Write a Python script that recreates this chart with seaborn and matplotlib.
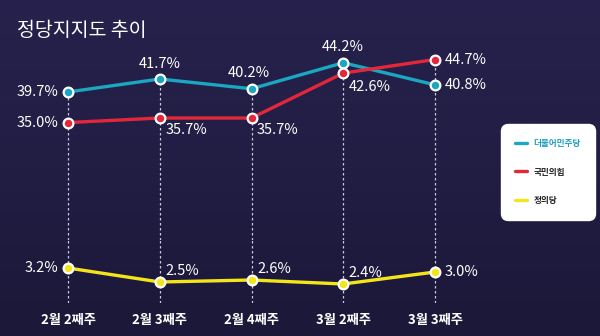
import numpy as np
import pandas as pd
import matplotlib
matplotlib.use("Agg")
import matplotlib.pyplot as plt
import seaborn as sns
from matplotlib.lines import Line2D
from matplotlib.colors import LinearSegmentedColormap

weeks = ["2월 2째주", "2월 3째주", "2월 4째주", "3월 2째주", "3월 3째주"]
minjoo = [39.7, 41.7, 40.2, 44.2, 40.8]
ppp = [35.0, 35.7, 35.7, 42.6, 44.7]
justice = [3.2, 2.5, 2.6, 2.4, 3.0]
party_names = ["더불어민주당", "국민의힘", "정의당"]
title = "정당지지도 추이"

sns.set_style("dark")
plt.rcParams['font.family'] = ['Noto Sans CJK KR', 'DejaVu Sans']

C_BLUE = "#1ba6c2"
C_RED = "#e2273a"
C_YEL = "#f4e51a"
BG_TOP = "#27224d"
BG_BOT = "#1c1839"

W, H = 600, 336
fig = plt.figure(figsize=(6, 3.36), dpi=100)

# background gradient
bg = fig.add_axes([0, 0, 1, 1])
grad = np.linspace(0, 1, 256).reshape(-1, 1)
cmap = LinearSegmentedColormap.from_list("bg", [BG_TOP, BG_BOT])
bg.imshow(grad, aspect="auto", cmap=cmap, extent=[0, 1, 0, 1])
bg.set_axis_off()

def px_axes(x0, y0, x1, y1):
    return fig.add_axes([x0 / W, 1 - y1 / H, (x1 - x0) / W, (y1 - y0) / H])

xlim = (-(68 - 20) / 91.75, 4 + (480 - 435) / 91.75)
ax_top = px_axes(20, 40, 480, 240)
ax_bot = px_axes(20, 240, 480, 303)
for a in (ax_top, ax_bot):
    a.set_facecolor("none")
    for s in a.spines.values():
        s.set_visible(False)
    a.grid(False)

ax_top.set_ylim(39.7 - 148 / 6.5, 39.7 + 52 / 6.5)
ax_bot.set_ylim(3.2 - 35 / 20, 3.2 + 28 / 20)

xs = list(range(len(weeks)))
df_top = pd.DataFrame({"x": xs * 2, "v": minjoo + ppp,
                       "party": [party_names[0]] * 5 + [party_names[1]] * 5})
df_bot = pd.DataFrame({"x": xs, "v": justice, "party": [party_names[2]] * 5})

# dashed guide lines
tops = [max(a, b) for a, b in zip(minjoo, ppp)]
ax_top.vlines(xs, ax_top.get_ylim()[0], tops, colors="#c8c8d8",
              linestyles=(0, (2, 2)), linewidth=0.9, zorder=1)
ax_bot.vlines(xs, ax_bot.get_ylim()[0], ax_bot.get_ylim()[1], colors="#c8c8d8",
              linestyles=(0, (2, 2)), linewidth=0.9, zorder=1)

sns.lineplot(data=df_top, x="x", y="v", hue="party",
             palette={party_names[0]: C_BLUE, party_names[1]: C_RED},
             linewidth=2.4, marker="o", markersize=7, markeredgecolor="white",
             markeredgewidth=1.6, legend=False, ax=ax_top, zorder=3)
sns.lineplot(data=df_bot, x="x", y="v", hue="party",
             palette={party_names[2]: C_YEL},
             linewidth=2.4, marker="o", markersize=7, markeredgecolor="white",
             markeredgewidth=1.6, legend=False, ax=ax_bot, zorder=3)
for a in (ax_top, ax_bot):
    a.set_xlim(*xlim)
    a.set_ylabel("")
    a.set_xlabel("")
    a.set_yticks([])

ax_top.set_xticks([])
ax_bot.set_xticks(xs)
ax_bot.set_xticklabels(weeks, color="white", fontsize=9.5, fontweight="bold")
ax_bot.tick_params(axis="x", length=0, pad=7)

lab_kw = dict(color="white", fontsize=10.5, textcoords="offset points", va="center")

# placements: (dx, dy, ha)
blue_pos = [(-7, 0, "right"), (0, 11, "center"), (-2, 11, "center"), (0, 11, "center"), (7, 0, "left")]
red_pos = [(-7, 0, "right"), (4, -9, "left"), (4, -9, "left"), (4, -10, "left"), (7, 0, "left")]
yel_pos = [(-7, 0, "right"), (4, 8, "left"), (4, 8, "left"), (4, 8, "left"), (7, 0, "left")]

for ax, vals, pos in ((ax_top, minjoo, blue_pos), (ax_top, ppp, red_pos), (ax_bot, justice, yel_pos)):
    for x, v, (dx, dy, ha) in zip(xs, vals, pos):
        ax.annotate(f"{v:.1f}%", (x, v), xytext=(dx, dy), ha=ha, **lab_kw)

fig.text(17 / W, 1 - 30 / H, title, color="white", fontsize=14,
         fontweight="medium", va="center", ha="left")

# legend box
handles = [Line2D([], [], color=c, linewidth=2.4) for c in (C_BLUE, C_RED, C_YEL)]
leg = fig.legend(handles, party_names, loc="center",
                 bbox_to_anchor=(548 / W, 1 - 172 / H),
                 frameon=True, fancybox=True, facecolor="white", edgecolor="white",
                 framealpha=1, fontsize=6.2, handlelength=1.3, handletextpad=0.8,
                 labelspacing=2.3, borderpad=1.5)
leg.get_frame().set_boxstyle("round,pad=0.2,rounding_size=0.8")
tcolors = ["#1a9fc0", "#222222", "#222222"]
for t, c in zip(leg.get_texts(), tcolors):
    t.set_color(c)
    t.set_fontweight("bold")

fig.savefig("out.png", dpi=100, facecolor=BG_TOP)
